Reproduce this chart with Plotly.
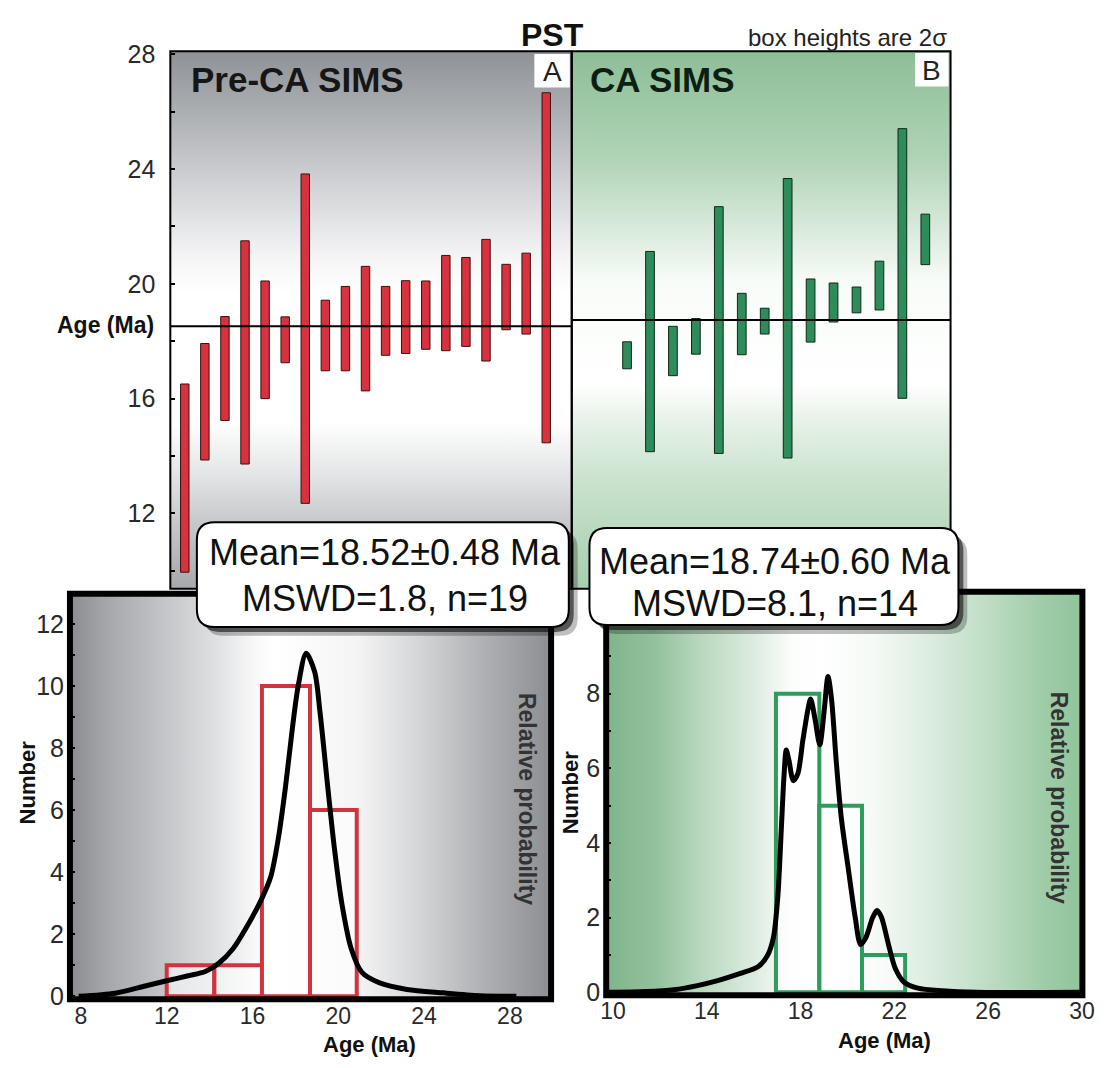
import base64
import numpy as np
import plotly.graph_objects as go

# ---------------- DATA ----------------
# Panel A: Pre-CA SIMS spot ages (Ma) and box half-heights (2 sigma)
a_ages = [13.23, 15.89, 17.05, 17.61, 18.05, 18.05, 18.09, 18.20, 18.44, 18.44,
          18.71, 18.84, 18.91, 19.33, 19.37, 19.43, 19.54, 19.66, 20.56]
a_err2s = [3.28, 2.03, 1.81, 3.89, 2.05, 0.80, 5.74, 1.23, 1.47, 2.17,
           1.20, 1.27, 1.19, 1.66, 1.55, 2.12, 1.14, 1.41, 6.10]
a_mean = 18.52

# Panel B: CA SIMS spot ages (Ma) and box half-heights (2 sigma)
b_ages = [17.51, 17.64, 17.66, 18.17, 18.39, 18.60, 18.70, 18.80, 19.07, 19.35,
          19.44, 19.94, 20.71, 21.55]
b_err2s = [0.47, 3.49, 0.86, 0.62, 4.30, 1.07, 0.45, 4.87, 1.10, 0.68,
           0.45, 0.85, 4.70, 0.88]
b_mean = 18.74

# Histograms (bin edges in Ma, counts)
a_bin_edges = [12.0, 14.22, 16.44, 18.68, 20.86]
a_counts = [1, 1, 10, 6]
b_bin_edges = [16.95, 18.80, 20.62, 22.46]
b_counts = [8, 5, 1]

# Relative probability curves (age, value on Number axis)
a_curve_age = [7.9, 9.6, 11.0, 12.0, 13.0, 13.8, 14.4, 15.1, 15.7, 16.4, 16.85, 17.2,
               17.53, 17.87, 18.13, 18.5, 18.9, 19.15, 19.5, 19.83, 20.17, 20.6,
               21.1, 21.9, 23.2, 24.9, 26.6, 28.3]
a_curve_val = [0.0, 0.1, 0.33, 0.5, 0.66, 0.8, 1.05, 1.54, 2.2, 3.1, 3.85, 5.07,
               6.7, 8.7, 10.0, 11.05, 10.45, 9.14, 6.8, 4.7, 2.97, 1.54,
               0.77, 0.44, 0.22, 0.11, 0.02, 0.0]
b_curve_age = [9.8, 11.4, 12.6, 13.6, 14.5, 15.4, 16.2, 16.6, 16.84, 17.03, 17.18,
               17.29, 17.39, 17.51, 17.69, 17.88, 18.1, 18.33, 18.43, 18.62, 18.82,
               19.0, 19.17, 19.32, 19.52, 19.74, 20.04, 20.33, 20.56, 20.78, 21.08,
               21.26, 21.45, 21.75, 22.04, 22.42, 23.0, 24.05, 25.5, 30.0]
b_curve_val = [0.0, 0.02, 0.07, 0.18, 0.32, 0.5, 0.69, 1.0, 1.46, 2.56, 4.39,
               5.76, 6.49, 6.2, 5.67, 5.85, 6.76, 7.63, 7.86, 7.31, 6.63,
               7.5, 8.46, 7.86, 6.2, 4.66, 3.29, 2.01, 1.28, 1.46, 2.01,
               2.19, 2.01, 1.28, 0.64, 0.27, 0.11, 0.04, 0.0, 0.0]

a_xticks = [8, 12, 16, 20, 24, 28]
b_xticks = [10, 14, 18, 22, 26, 30]

# ---------------- STYLE / LAYOUT ----------------
W, H = 1119, 1068
FONT = "Liberation Sans, Arial, Helvetica, sans-serif"
RED = "#d8323f"
GREEN = "#2e8b5a"
HRED = "#d0343f"
HGREEN = "#2e9c5c"


def px(x):
    return x / W


def py(y):
    return 1 - y / H


# panel pixel boxes (left, top, right, bottom)
PA = (167, 41, 575, 590)
PB = (575, 41, 960, 590)
PC = (65, 595, 554, 1009)
PD = (610, 593, 1094, 1005)


def grad_svg(stops, vertical):
    x2, y2 = ("0", "1") if vertical else ("1", "0")
    st = "".join(f"<stop offset='{o}' stop-color='{c}'/>" for o, c in stops)
    svg = (f"<svg xmlns='http://www.w3.org/2000/svg' width='100' height='100' "
           f"viewBox='0 0 100 100' preserveAspectRatio='none'><defs>"
           f"<linearGradient id='g' x1='0' y1='0' x2='{x2}' y2='{y2}'>{st}"
           f"</linearGradient></defs><rect width='100' height='100' fill='url(#g)'/></svg>")
    return "data:image/svg+xml;base64," + base64.b64encode(svg.encode()).decode()


grad_a = [(0, "#8e9195"), (0.22, "#c9cbce"), (0.38, "#f4f4f5"), (0.45, "#ffffff"),
          (0.69, "#ffffff"), (0.78, "#e6e7e8"), (0.87, "#c9cacd"), (1, "#a6a8ac")]
grad_b = [(0, "#8dbe97"), (0.2, "#b0d3b6"), (0.37, "#e5f1e7"), (0.43, "#f8fcf8"),
          (0.62, "#ffffff"), (0.68, "#e9f3ea"), (0.8, "#c9e2cd"), (1, "#a7cfae")]
grad_c = [(0, "#8a8c90"), (0.07, "#a3a5a9"), (0.2, "#c4c6c9"), (0.31, "#e0e2e4"),
          (0.39, "#fafafa"), (0.43, "#ffffff"), (0.6, "#f4f4f4"), (0.72, "#d6d7d9"),
          (0.85, "#b1b3b6"), (1, "#8c8e92")]
grad_d = [(0, "#7fb68b"), (0.1, "#92c09c"), (0.19, "#b5d6bb"), (0.31, "#dcece0"),
          (0.39, "#fbfdfb"), (0.45, "#ffffff"), (0.56, "#f5faf6"), (0.68, "#dcece0"),
          (0.81, "#bcdcc2"), (0.91, "#a1cdaa"), (1, "#8fc49a")]


def bg_image(box, stops, vertical):
    l, t, r, b = box
    return dict(source=grad_svg(stops, vertical), xref="paper", yref="paper",
                x=px(l), y=py(t), sizex=px(r) - px(l), sizey=py(t) - py(b),
                xanchor="left", yanchor="top", sizing="stretch", layer="below")


fig = go.Figure()

# ---- top panels: 2-sigma boxes ----
a_idx = np.arange(1, len(a_ages) + 1)
b_idx = np.arange(1, len(b_ages) + 1)
a_lo = np.array(a_ages) - np.array(a_err2s)
b_lo = np.array(b_ages) - np.array(b_err2s)
fig.add_trace(go.Bar(x=a_idx, y=2 * np.array(a_err2s), base=a_lo, width=0.42,
                     marker=dict(color=RED, line=dict(color="#3a1010", width=1)),
                     xaxis="x", yaxis="y", showlegend=False, hoverinfo="skip"))
fig.add_trace(go.Bar(x=b_idx, y=2 * np.array(b_err2s), base=b_lo, width=0.38,
                     marker=dict(color=GREEN, line=dict(color="#0e2a18", width=1)),
                     xaxis="x2", yaxis="y2", showlegend=False, hoverinfo="skip"))

# ---- histograms ----
ae = np.array(a_bin_edges)
be = np.array(b_bin_edges)
fig.add_trace(go.Bar(x=(ae[:-1] + ae[1:]) / 2, y=a_counts, width=np.diff(ae),
                     marker=dict(color="rgba(255,255,255,0.55)", line=dict(color=HRED, width=4)),
                     xaxis="x3", yaxis="y3", showlegend=False, hoverinfo="skip"))
fig.add_trace(go.Bar(x=(be[:-1] + be[1:]) / 2, y=b_counts, width=np.diff(be),
                     marker=dict(color="rgba(255,255,255,0.55)", line=dict(color=HGREEN, width=4)),
                     xaxis="x4", yaxis="y4", showlegend=False, hoverinfo="skip"))

# ---- probability curves ----
fig.add_trace(go.Scatter(x=a_curve_age, y=a_curve_val, mode="lines",
                         line=dict(color="black", width=5, shape="spline", smoothing=0.8),
                         xaxis="x3", yaxis="y3", showlegend=False, hoverinfo="skip"))
fig.add_trace(go.Scatter(x=b_curve_age, y=b_curve_val, mode="lines",
                         line=dict(color="black", width=5, shape="spline", smoothing=0.8),
                         xaxis="x4", yaxis="y4", showlegend=False, hoverinfo="skip"))

tickfont = dict(family=FONT, size=25, color="#2a2a2a")
xtickfont = dict(family=FONT, size=23, color="#2a2a2a")

fig.update_layout(
    width=W, height=H, margin=dict(l=0, r=0, t=0, b=0),
    paper_bgcolor="white", plot_bgcolor="rgba(0,0,0,0)",
    barmode="overlay", showlegend=False,
    xaxis=dict(domain=[px(PA[0]), px(PA[2])], range=[0.28, 20.27], visible=False,
               anchor="y", fixedrange=True),
    yaxis=dict(domain=[py(PA[3]), py(PA[1])], range=[9.37, 28.11], anchor="x",
               tickvals=list(range(10, 29, 2)),
               ticktext=["", "12", "", "16", "", "20", "", "24", "", "28"],
               ticks="inside", ticklen=5, tickwidth=2, tickcolor="black",
               showgrid=False, zeroline=False, showline=False,
               tickfont=tickfont, ticklabelstandoff=14),
    xaxis2=dict(domain=[px(PB[0]), px(PB[2])], range=[-1.41, 15.10], visible=False,
                anchor="y2"),
    yaxis2=dict(domain=[py(PB[3]), py(PB[1])], range=[9.37, 28.11], anchor="x2",
                visible=False),
    xaxis3=dict(domain=[px(PC[0]), px(PC[2])], range=[7.49, 29.92], anchor="y3",
                tickvals=a_xticks, ticks="", showgrid=False, zeroline=False,
                showline=False, tickfont=xtickfont, ticklabelstandoff=1),
    yaxis3=dict(domain=[py(PC[3]), py(PC[1])], range=[-0.095, 12.97], anchor="x3",
                tickvals=list(range(0, 13)),
                ticktext=[str(v) if v % 2 == 0 else "" for v in range(0, 13)],
                ticks="inside", ticklen=5, tickwidth=2, tickcolor="black",
                showgrid=False, zeroline=False, showline=False,
                tickfont=tickfont, ticklabelstandoff=5),
    xaxis4=dict(domain=[px(PD[0]), px(PD[2])], range=[9.71, 30.02], anchor="y4",
                tickvals=b_xticks, ticks="", showgrid=False, zeroline=False,
                showline=False, tickfont=xtickfont, ticklabelstandoff=0),
    yaxis4=dict(domain=[py(PD[3]), py(PD[1])], range=[-0.08, 10.73], anchor="x4",
                tickvals=list(range(0, 11)),
                ticktext=[str(v) if v % 2 == 0 and v < 10 else "" for v in range(0, 11)],
                ticks="inside", ticklen=5, tickwidth=2, tickcolor="black",
                showgrid=False, zeroline=False, showline=False,
                tickfont=tickfont, ticklabelstandoff=5),
    images=[bg_image(PA, grad_a, True), bg_image(PB, grad_b, True),
            bg_image(PC, grad_c, False), bg_image(PD, grad_d, False)],
)


def rect_paper(box, **kw):
    l, t, r, b = box
    return dict(type="rect", xref="paper", yref="paper", x0=px(l), x1=px(r),
                y0=py(b), y1=py(t), layer="above", **kw)


def rrect_path(l, t, r, b, rad):
    pts = [("M", l + rad, t), ("L", r - rad, t), ("Q", r, t, r, t + rad),
           ("L", r, b - rad), ("Q", r, b, r - rad, b), ("L", l + rad, b),
           ("Q", l, b, l, b - rad), ("L", l, t + rad), ("Q", l, t, l + rad, t)]
    out = []
    for p in pts:
        cmd = p[0]
        coords = p[1:]
        s = " ".join(f"{px(coords[i]):.5f},{py(coords[i + 1]):.5f}"
                     for i in range(0, len(coords), 2))
        out.append(f"{cmd}{s}")
    return " ".join(out) + " Z"


shapes = []
# top panel frames
shapes.append(rect_paper(PA, line=dict(color="black", width=2), fillcolor="rgba(0,0,0,0)"))
shapes.append(rect_paper(PB, line=dict(color="black", width=2), fillcolor="rgba(0,0,0,0)"))
# weighted mean lines
shapes.append(dict(type="line", xref="x domain", yref="y", x0=0, x1=1, y0=a_mean, y1=a_mean,
                   line=dict(color="black", width=2), layer="above"))
shapes.append(dict(type="line", xref="x2 domain", yref="y2", x0=0, x1=1, y0=b_mean, y1=b_mean,
                   line=dict(color="black", width=2), layer="above"))
# letter boxes
shapes.append(rect_paper((537, 44, 573, 78), line=dict(width=0), fillcolor="white"))
shapes.append(rect_paper((924, 43, 958, 77), line=dict(width=0), fillcolor="white"))
# lower frames
shapes.append(rect_paper(PC, line=dict(color="black", width=6), fillcolor="rgba(0,0,0,0)"))
shapes.append(rect_paper(PD, line=dict(color="black", width=6), fillcolor="rgba(0,0,0,0)"))
# annotation boxes with shadows
for (l, t, r, b) in [(194, 522, 572, 629), (593, 528, 968, 627)]:
    shapes.append(dict(type="path", xref="paper", yref="paper", layer="above",
                       path=rrect_path(l + 9, t + 9, r + 9, b + 9, 18),
                       fillcolor="rgba(0,0,0,0.25)", line=dict(width=0)))
    shapes.append(dict(type="path", xref="paper", yref="paper", layer="above",
                       path=rrect_path(l + 5, t + 5, r + 5, b + 5, 18),
                       fillcolor="rgba(0,0,0,0.55)", line=dict(width=0)))
    shapes.append(dict(type="path", xref="paper", yref="paper", layer="above",
                       path=rrect_path(l, t, r, b, 18),
                       fillcolor="white", line=dict(color="black", width=2)))
fig.update_layout(shapes=shapes)


def ann(text, x, y, size, bold=False, xanchor="center", angle=0, color="#111"):
    t = f"<b>{text}</b>" if bold else text
    return dict(text=t, x=px(x), y=py(y), xref="paper", yref="paper", showarrow=False,
                xanchor=xanchor, yanchor="middle", textangle=angle,
                font=dict(family=FONT, size=size, color=color))


annotations = [
    ann("PST", 555, 24, 32, bold=True),
    ann("box heights are 2σ", 958, 27, 24, xanchor="right", color="#222"),
    ann("Pre-CA SIMS", 186, 70, 35, bold=True, xanchor="left", color="#161616"),
    ann("CA SIMS", 592, 70, 35, bold=True, xanchor="left", color="#0d1f12"),
    ann("A", 555, 62, 28, color="#222"),
    ann("B", 941, 61, 28, color="#222"),
    ann("Age (Ma)", 152, 321, 23, bold=True, xanchor="right"),
    ann("Mean=18.52±0.48 Ma", 385, 553, 36),
    ann("MSWD=1.8, n=19", 385, 600, 36),
    ann("Mean=18.74±0.60 Ma", 782, 562, 36),
    ann("MSWD=8.1, n=14", 782, 605, 36),
    ann("Number", 22, 788, 22, bold=True, angle=-90),
    ann("Number", 574, 798, 22, bold=True, angle=-90),
    ann("Relative probability", 529, 805, 23, bold=True, angle=90, color="#333"),
    ann("Relative probability", 1070, 803, 23, bold=True, angle=90, color="#333"),
    ann("Age (Ma)", 369, 1055, 22, bold=True),
    ann("Age (Ma)", 893, 1051, 22, bold=True),
]
fig.update_layout(annotations=annotations)

fig.write_html("out.html")
